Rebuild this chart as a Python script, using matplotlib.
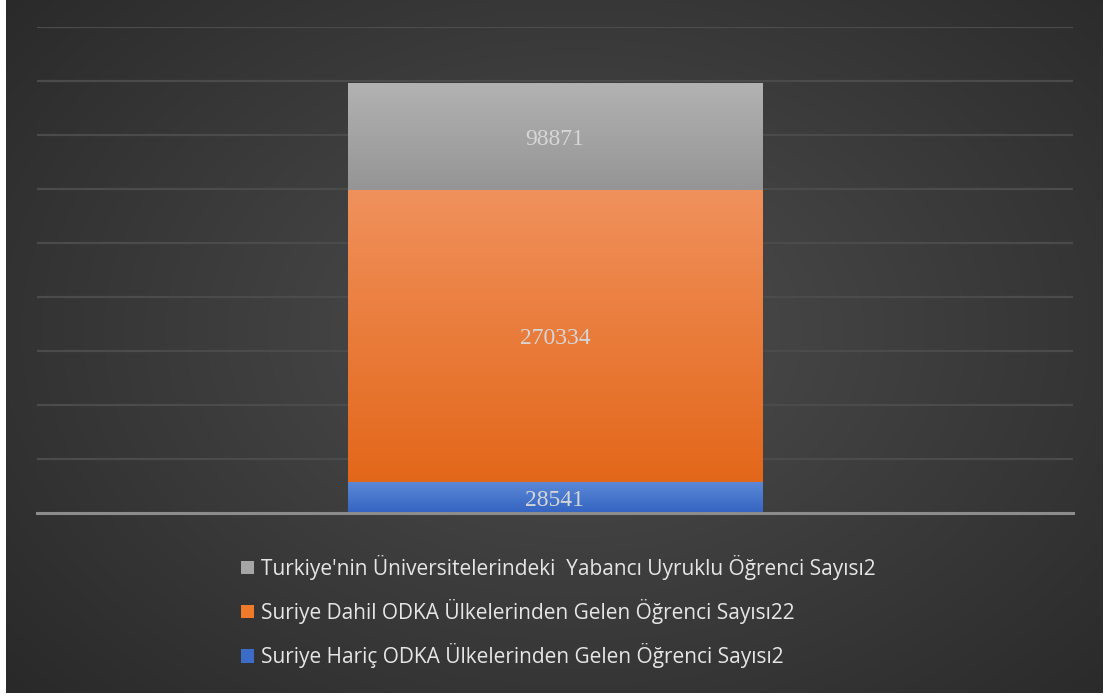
import numpy as np
import matplotlib.pyplot as plt
from matplotlib.patches import Rectangle
from matplotlib.colors import to_rgb

# data
categories = ['']
series_names = [
    "Suriye Hariç ODKA Ülkelerinden Gelen Öğrenci Sayısı2",
    "Suriye Dahil ODKA Ülkelerinden Gelen Öğrenci Sayısı22",
    "Turkiye'nin Üniversitelerindeki  Yabancı Uyruklu Öğrenci Sayısı2",
]
series_values = [28541, 270334, 98871]
# (top colour, bottom colour) of each segment gradient
series_colors = [('#5b88d6', '#3464c2'), ('#f0915c', '#e3671a'), ('#b2b2b2', '#959595')]
legend_colors = ['#3a6cc8', '#ee7a2a', '#a6a6a6']

fig = plt.figure(figsize=(11.07, 6.97), dpi=100)
fig.patch.set_facecolor('white')

# dark radial background
bg = fig.add_axes([6 / 1107, 4 / 697, 1097 / 1107, 693 / 697])
bg.set_axis_off()
yy, xx = np.mgrid[0:1:300j, 0:1:480j]
r = np.sqrt(((xx - 0.52) / 0.75) ** 2 + ((yy - 0.52) / 0.85) ** 2)
r = np.clip(r, 0, 1)
c0 = np.array([0x4e, 0x4e, 0x4e]) / 255
c1 = np.array([0x26, 0x26, 0x26]) / 255
img = c0[None, None, :] * (1 - r[..., None]) + c1[None, None, :] * r[..., None]
bg.imshow(img, aspect='auto', extent=[0, 1, 0, 1], origin='lower')
bg.set_xlim(0, 1)
bg.set_ylim(0, 1)

ax = fig.add_axes([37 / 1107, (697 - 513) / 697, 1036 / 1107, 486 / 697])
ax.set_facecolor('none')
ax.set_yticks(np.arange(0, 450001, 50000))
ax.grid(axis='y', color='#4b4b4b', linewidth=1.6)
ax.set_axisbelow(True)
for s in ['top', 'right', 'left']:
    ax.spines[s].set_visible(False)
ax.spines['bottom'].set_color('#8c8c8c')
ax.spines['bottom'].set_linewidth(2.2)
ax.spines['bottom'].set_zorder(5)
ax.tick_params(left=False, bottom=False, labelleft=False, labelbottom=False)

bottom = 0
handles = []
for name, val, (ctop, cbot), lc in zip(series_names, series_values, series_colors, legend_colors):
    bars = ax.bar(0, val, width=0.4, bottom=bottom, color='none', edgecolor='none', zorder=3, label=name)
    p = bars[0]
    x0, y0 = p.get_x(), p.get_y()
    w, h = p.get_width(), p.get_height()
    grad = np.linspace(0, 1, 100)[:, None]
    ct = np.array(to_rgb(ctop))
    cb = np.array(to_rgb(cbot))
    gimg = cb[None, None, :] * (1 - grad[..., None]) + ct[None, None, :] * grad[..., None]
    ax.imshow(gimg, extent=[x0, x0 + w, y0, y0 + h], origin='lower', aspect='auto', zorder=3)
    ax.text(0, bottom + val / 2, str(val), ha='center', va='center_baseline', color='#d6d6d6',
            fontsize=17, family='Liberation Serif', zorder=4)
    handles.append(Rectangle((0, 0), 1, 1, facecolor=lc))
    bottom += val
ax.set_xlim(-0.5, 0.5)
ax.set_ylim(0, 450000)

leg = fig.legend(handles[::-1], series_names[::-1], loc='upper center',
                 bbox_to_anchor=(558 / 1107, 1 - 536 / 697), frameon=False,
                 labelcolor='#e6e6e6', handlelength=0.62, handleheight=0.62,
                 handletextpad=0.34, labelspacing=0.92, alignment='left',
                 prop={'family': 'Open Sans', 'size': 15})

fig.savefig('out.png', dpi=100, facecolor='white')
